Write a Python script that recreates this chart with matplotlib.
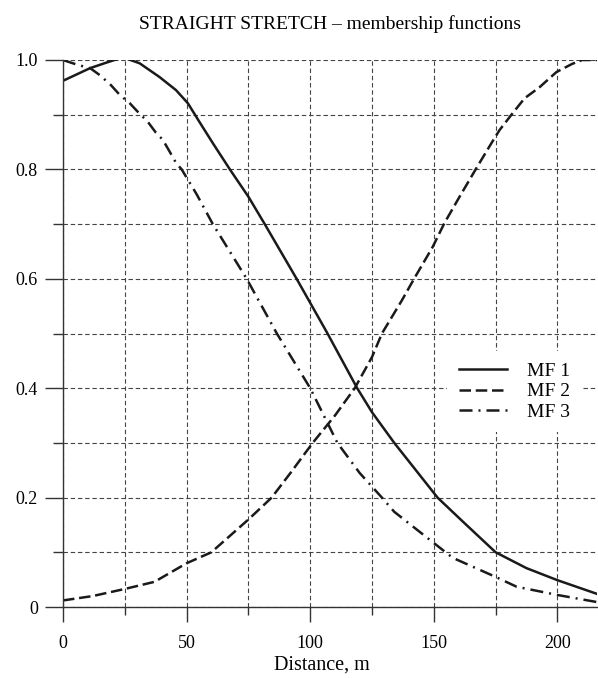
import matplotlib
matplotlib.use("Agg")
import matplotlib.pyplot as plt

plt.rcParams['font.family'] = ['Liberation Serif', 'DejaVu Serif']

# MF 1 (solid)
mf1_x = [0, 10.9, 17.4, 24.2, 31, 39, 45.7, 50.5, 55.3, 60.6, 67.5, 75, 81.6, 94.5, 100, 107, 119, 125, 134, 151.5, 162, 175, 187.5, 200, 216]
mf1_y = [0.962, 0.985, 0.995, 1.005, 0.994, 0.969, 0.945, 0.921, 0.886, 0.848, 0.80, 0.75, 0.70, 0.60, 0.556, 0.50, 0.40, 0.356, 0.30, 0.20, 0.155, 0.10, 0.071, 0.049, 0.024]

# MF 2 (dashed)
mf2_x = [0, 12, 25, 37, 50, 60, 75, 84.4, 92, 101, 110, 118, 125, 129, 137, 142, 149.5, 154.3, 160.4, 167.3, 173.3, 176.6, 181.4, 186.7, 192.7, 199.6, 206, 210, 216]
mf2_y = [0.012, 0.02, 0.033, 0.046, 0.08, 0.10, 0.16, 0.20, 0.245, 0.30, 0.35, 0.40, 0.457, 0.50, 0.56, 0.60, 0.658, 0.702, 0.75, 0.803, 0.848, 0.872, 0.90, 0.93, 0.95, 0.978, 0.993, 1.0, 1.0]

# MF 3 (dash-dot)
mf3_x = [0, 6, 11, 15, 19.4, 23, 27, 30.3, 34.3, 37.6, 40.4, 43.2, 45.7, 48, 54, 60.6, 74.3, 86.5, 100, 111, 120, 129, 134, 150, 157.6, 175, 183.5, 200, 216]
mf3_y = [1.0, 0.991, 0.985, 0.972, 0.954, 0.936, 0.921, 0.905, 0.887, 0.867, 0.854, 0.832, 0.812, 0.80, 0.755, 0.70, 0.60, 0.50, 0.40, 0.30, 0.245, 0.20, 0.174, 0.117, 0.09, 0.055, 0.037, 0.022, 0.009]

xticks = [0, 50, 100, 150, 200]
xminor = [25, 75, 125, 175]
yticks = [0, 0.2, 0.4, 0.6, 0.8, 1.0]
ylabels = ['0', '0.2', '0.4', '0.6', '0.8', '1.0']
yminor = [0.1, 0.3, 0.5, 0.7, 0.9]

fig = plt.figure(figsize=(5.98, 6.78), dpi=100)
ax = fig.add_axes([63/598, 1 - 607/678, 534/598, 547/678])

lc = '#1a1a1a'
ax.plot(mf1_x, mf1_y, color=lc, lw=1.8, label='MF 1')
ax.plot(mf2_x, mf2_y, color=lc, lw=1.8, linestyle=(0, (4.6, 1.9)), label='MF 2')
ax.plot(mf3_x, mf3_y, color=lc, lw=1.8, linestyle=(0, (5.2, 2.4, 0.8, 2.4)), label='MF 3')

ax.set_xlim(0, 216)
ax.set_ylim(0, 1.0)
ax.set_xticks(xticks)
ax.set_xticks(xminor, minor=True)
ax.set_yticks(yticks)
ax.set_yticklabels(ylabels)
ax.set_yticks(yminor, minor=True)

ax.grid(True, which='both', color='#444444', lw=0.8, linestyle=(0, (4, 2.5)))
ax.set_axisbelow(True)

for s in ['top', 'right']:
    ax.spines[s].set_visible(False)
for s in ['left', 'bottom']:
    ax.spines[s].set_linewidth(1.0)
    ax.spines[s].set_color('#333333')

ax.tick_params(axis='x', which='major', length=10.8, width=1.0, pad=9, labelsize=13, color='#333333')
ax.tick_params(axis='x', which='minor', length=5.8, width=1.0, color='#333333')
ax.tick_params(axis='y', which='major', length=13, width=1.0, pad=5, labelsize=13, color='#333333')
ax.tick_params(axis='y', which='minor', length=7.2, width=1.0, color='#333333')

ax.set_title('STRAIGHT STRETCH \u2013 membership functions', fontsize=14, pad=22)
ax.set_xlabel('Distance, m', fontsize=14.5, labelpad=3, x=0.485)

leg = fig.legend(loc='upper left', bbox_to_anchor=(447/598, 1 - 351/678), frameon=True,
                 fancybox=False, facecolor='white', edgecolor='none', framealpha=1,
                 fontsize=14, handlelength=2.5, handletextpad=1.0, labelspacing=0.13,
                 borderpad=0.6, borderaxespad=0)

fig.savefig('out.png', dpi=100)
